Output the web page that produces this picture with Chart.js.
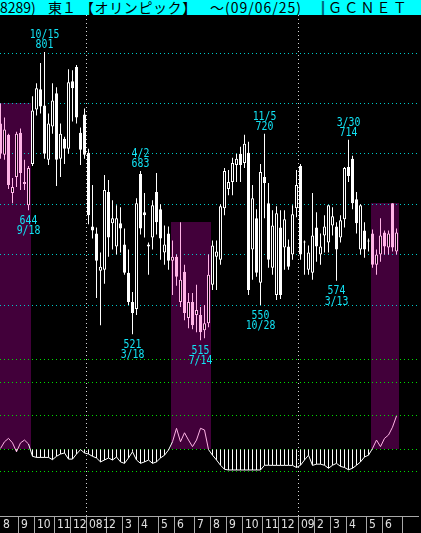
<!DOCTYPE html>
<html lang="ja">
<head>
<meta charset="UTF-8">
<title>8289 オリンピック 週足</title>
<script src="https://cdn.jsdelivr.net/npm/chart.js@4/dist/chart.umd.min.js"></script>
<style>
  html, body { margin: 0; padding: 0; background: #000; }
  #wrap { position: relative; width: 421px; height: 533px; overflow: hidden; background: #000; }
  #title { position: absolute; left: 0; top: 0; width: 421px; height: 15px; background: #00ffff; color: #000;
           font-family: "Noto Sans CJK JP"; font-size: 14px; line-height: 15px; white-space: nowrap; overflow: hidden; }
  #title span { position: absolute; top: 0; }
  #chart { position: absolute; left: 0; top: 15px; }
</style>
</head>
<body>
<div id="wrap">
  <div id="title">
    <span style="left:0">8289)</span>
    <span style="left:48px">東１</span>
    <span style="left:80px;letter-spacing:0.6px">【オリンピック】</span>
    <span style="left:210px;letter-spacing:1px">～(09/06/25)</span>
    <span style="left:316px">║</span>
    <span style="left:328px;letter-spacing:2.2px">ＧＣＮＥＴ</span>
  </div>
  <canvas id="chart" width="421" height="518"></canvas>
</div>

<script>
// weekly candles, week 0 = 2007/7/30 ... week 99 = 2009/6/22
const opens  = [730,699,719,661,677,721,672,649,690,744, 764,748,694,727,760,695,715,705,772,786,
                721,739,701,628,621,584,585,662,631,608, 631,610,582,553,546,680,642,610,617,662,
                645,602,621,594,598,553,583,537,553,540, 540,525,532,570,598,595,646,665,672,689,
                700,691,701,605,636,572,677,651,587,560, 627,607,608,600,646,688,613,585,582,627,
                600,619,612,629,628,617,635,687,695,655, 605,624,613,621,590,600,622,607,651,603];
const highs  = [750,736,720,676,722,725,694,688,757,770, 790,801,740,770,766,730,717,784,783,788,
                726,745,705,669,627,602,679,674,654,649, 647,626,605,563,656,683,661,612,654,681,
                650,629,628,614,600,632,590,562,562,570, 548,550,600,614,614,650,686,684,696,700,
                707,719,712,669,645,690,720,671,644,648, 644,644,615,649,684,690,614,609,661,642,
                621,639,649,647,632,639,687,714,698,662, 650,632,616,625,605,636,624,624,651,626];
const lows   = [695,694,665,651,667,664,664,644,688,738, 740,695,689,720,668,677,690,700,732,730,
                689,695,630,616,557,530,571,598,605,600, 602,580,550,521,540,620,617,580,605,620,
                595,590,585,560,569,548,535,527,526,523, 515,517,528,565,565,590,639,659,659,672,
                672,686,560,575,578,550,636,587,580,555, 556,585,585,595,637,595,580,580,575,593,
                590,602,602,619,574,612,627,672,645,621, 600,597,603,587,580,593,600,600,603,600];
const closes = [700,724,669,667,720,681,670,686,743,765, 747,700,730,753,694,720,705,771,765,736,
                704,699,639,624,594,588,664,617,636,636, 626,582,553,542,651,626,639,608,649,632,
                616,610,594,598,578,575,542,553,530,545, 523,532,580,609,603,648,683,672,691,695,
                689,710,565,656,582,682,671,595,629,641, 560,635,588,640,669,600,612,602,619,608,
                608,628,649,638,605,634,686,678,651,631, 649,605,614,590,600,619,608,621,607,622];

// lower panel oscillator (0-100 scale, baseline 20)
const osc = [21,27,30,26,18,26,28.5,25,14,13, 13,13,13,11,14,16,17,11.5,11.5,16,
             20,17,16,14,12.5,9,10.7,12.5,10.7,13.4, 9,7.7,12.5,18,10.7,7.7,9,10.7,7.7,9,
             12.5,15,19.6,27,39,27,35,28.5,22.6,28.5, 39,37.5,20,15,10.7,6,2.4,1.8,1.8,1.8,
             1.8,1.8,1.8,1.8,1.8,1.8,6,6,5.9,5.9, 5.9,5.9,5.9,5.9,4,6,10.7,15,5.9,7,
             7,6,3.3,6,7.7,5,4,2,3.3,6, 9,13.4,15,21,28.5,22.6,30,33,40,50];

// highlighted periods (first week, last week)
const bands = [[0, 7], [43, 52], [93, 99]];

// month separators (week position) and labels
const monthTicks  = [0, 4.5, 8.5, 13.5, 17.5, 21.5, 26.5, 30.5, 34.5, 39.5, 43.5, 48.5, 52.5,
                     56.5, 60.5, 65.5, 69.5, 74.5, 78.5, 82.5, 86.5, 91.5, 95.5, 100.5];
const monthLabels = ['8','9','10','11','12','081','2','3','4','5','6','7','8',
                     '9','10','11','12','09','2','3','4','5','6',''];
const yearTicks = [5, 17];   // indexes in monthTicks drawn as dotted lines

const highMarks = [{ week: 11, date: '10/15' }, { week: 35, date: '4/2' },
                   { week: 66, date: '11/5' }, { week: 87, date: '3/30' }];
const lowMarks  = [{ week: 7, date: '9/18' }, { week: 33, date: '3/18' }, { week: 50, date: '7/14' },
                   { week: 65, date: '10/28' }, { week: 84, date: '3/13' }];

const priceGrid = [550, 600, 650, 700, 750, 800];
const oscGrid = [0, 20, 50, 80, 100];
const OSC_BASE = 20;

const WHITE = '#ffffff';
const PINK = '#ffb4e6';
const BAND = '#42003a';
const CYAN_TXT = '#12e2f4';

function inBand(i) {
  return bands.some(b => i >= b[0] && i <= b[1]);
}
function candleColor(i) {
  return inBand(i) ? PINK : WHITE;
}

const weeks = opens.map((_, i) => i);

const bodyData = weeks.map(i => ({ x: i, y: [opens[i], closes[i]] }));
const wickData = weeks.map(i => ({ x: i, y: [lows[i], highs[i]] }));
const oscLine = weeks.map(i => ({ x: i, y: osc[i] }));
const oscHatch = weeks.map(i => ({ x: i, y: osc[i] < OSC_BASE ? [OSC_BASE, osc[i]] : null }));

// black background + highlight bands, behind the grid
const backdrop = {
  id: 'backdrop',
  beforeDraw(chart) {
    const { ctx, scales } = chart;
    ctx.save();
    ctx.fillStyle = '#000';
    ctx.fillRect(0, 0, chart.width, chart.height);
    ctx.fillStyle = BAND;
    bands.forEach(b => {
      let top = 0;
      for (let i = b[0]; i <= b[1]; i++) top = Math.max(top, highs[i]);
      const x1 = scales.x.getPixelForValue(b[0] - 0.5);
      const x2 = scales.x.getPixelForValue(b[1] + 0.5);
      const y1 = scales.y.getPixelForValue(top);
      const y2 = scales.y2.getPixelForValue(OSC_BASE);
      ctx.fillRect(Math.round(x1), Math.round(y1), Math.round(x2 - x1), Math.round(y2 - y1));
    });
    ctx.restore();
  }
};

// cyan high / low notes
function note(ctx, text, x, y) {
  ctx.save();
  ctx.translate(x, y);
  ctx.scale(0.82, 1);
  ctx.fillText(text, 0, 0);
  ctx.restore();
}
const notes = {
  id: 'notes',
  afterDatasetsDraw(chart) {
    const { ctx, scales } = chart;
    ctx.save();
    ctx.font = '12px "DejaVu Sans Mono"';
    ctx.fillStyle = CYAN_TXT;
    ctx.textAlign = 'center';
    ctx.textBaseline = 'alphabetic';
    highMarks.forEach(m => {
      const x = scales.x.getPixelForValue(m.week);
      const y = scales.y.getPixelForValue(highs[m.week]);
      note(ctx, m.date, x, y - 14);
      note(ctx, String(highs[m.week]), x, y - 4);
    });
    lowMarks.forEach(m => {
      const x = scales.x.getPixelForValue(m.week);
      const y = scales.y.getPixelForValue(lows[m.week]);
      note(ctx, String(lows[m.week]), x, y + 13.5);
      note(ctx, m.date, x, y + 24);
    });
    ctx.restore();
  }
};

const chart = new Chart(document.getElementById('chart'), {
  type: 'bar',
  data: {
    datasets: [
      {
        label: 'body',
        data: bodyData,
        order: 0,
        grouped: false,
        barThickness: 3,
        minBarLength: 1,
        borderWidth: 1,
        borderSkipped: false,
        inflateAmount: 0,
        borderColor: ctx => candleColor(ctx.dataIndex),
        backgroundColor: ctx => closes[ctx.dataIndex] >= opens[ctx.dataIndex] ? '#000' : candleColor(ctx.dataIndex)
      },
      {
        label: 'wick',
        data: wickData,
        order: 1,
        grouped: false,
        barThickness: 1,
        inflateAmount: 0,
        borderWidth: 0,
        backgroundColor: ctx => candleColor(ctx.dataIndex)
      },
      {
        type: 'line',
        label: 'osc',
        data: oscLine,
        yAxisID: 'y2',
        order: 2,
        borderWidth: 1,
        pointRadius: 0,
        tension: 0,
        borderColor: WHITE,
        segment: {
          borderColor: ctx => (inBand(ctx.p0DataIndex) && inBand(ctx.p1DataIndex)) ? PINK : WHITE
        }
      },
      {
        label: 'hatch',
        data: oscHatch,
        yAxisID: 'y2',
        order: 3,
        grouped: false,
        barThickness: 1,
        inflateAmount: 0,
        borderWidth: 0,
        backgroundColor: WHITE
      }
    ]
  },
  options: {
    responsive: false,
    devicePixelRatio: 1,
    animation: false,
    layout: { padding: { left: 0, right: 3, top: 0, bottom: 0 } },
    plugins: { legend: { display: false }, tooltip: { enabled: false } },
    scales: {
      x: {
        type: 'linear',
        position: 'bottom',
        min: -0.125,
        max: 104.375,
        offset: false,
        afterBuildTicks: s => { s.ticks = monthTicks.map(v => ({ value: v })); },
        afterFit: s => { s.height = 17; },
        grid: {
          offset: false,
          drawOnChartArea: true,
          drawTicks: true,
          tickLength: 17,
          tickWidth: 1,
          color: ctx => yearTicks.includes(ctx.index) ? '#d8d8d8' : 'rgba(0,0,0,0)',
          tickColor: ctx => ctx.index === 0 ? 'rgba(0,0,0,0)' : '#a8a8a8'
        },
        border: { display: true, color: '#a8a8a8', width: 1, dash: [1, 3] },
        ticks: {
          autoSkip: false,
          maxRotation: 0,
          align: 'start',
          labelOffset: 2.5,
          padding: -15,
          color: '#e0e0e0',
          font: { family: '"Liberation Sans Narrow", "DejaVu Sans Condensed", sans-serif', size: 12 },
          callback: (v, i) => monthLabels[i]
        }
      },
      y: {
        type: 'linear',
        position: 'left',
        min: 340.7,
        max: 837.7,
        afterBuildTicks: s => { s.ticks = priceGrid.map(v => ({ value: v })); },
        afterFit: s => { s.width = 0; },
        grid: { color: '#00c8c8', drawTicks: false },
        border: { display: false, dash: [1, 3] },
        ticks: { display: false }
      },
      y2: {
        type: 'linear',
        position: 'right',
        min: -39.3,
        max: 408,
        afterBuildTicks: s => { s.ticks = oscGrid.map(v => ({ value: v })); },
        afterFit: s => { s.width = 0; },
        grid: { color: '#00dc00', drawTicks: false },
        border: { display: false, dash: [1, 3] },
        ticks: { display: false }
      }
    }
  },
  plugins: [backdrop, notes]
});
</script>
</body>
</html>
